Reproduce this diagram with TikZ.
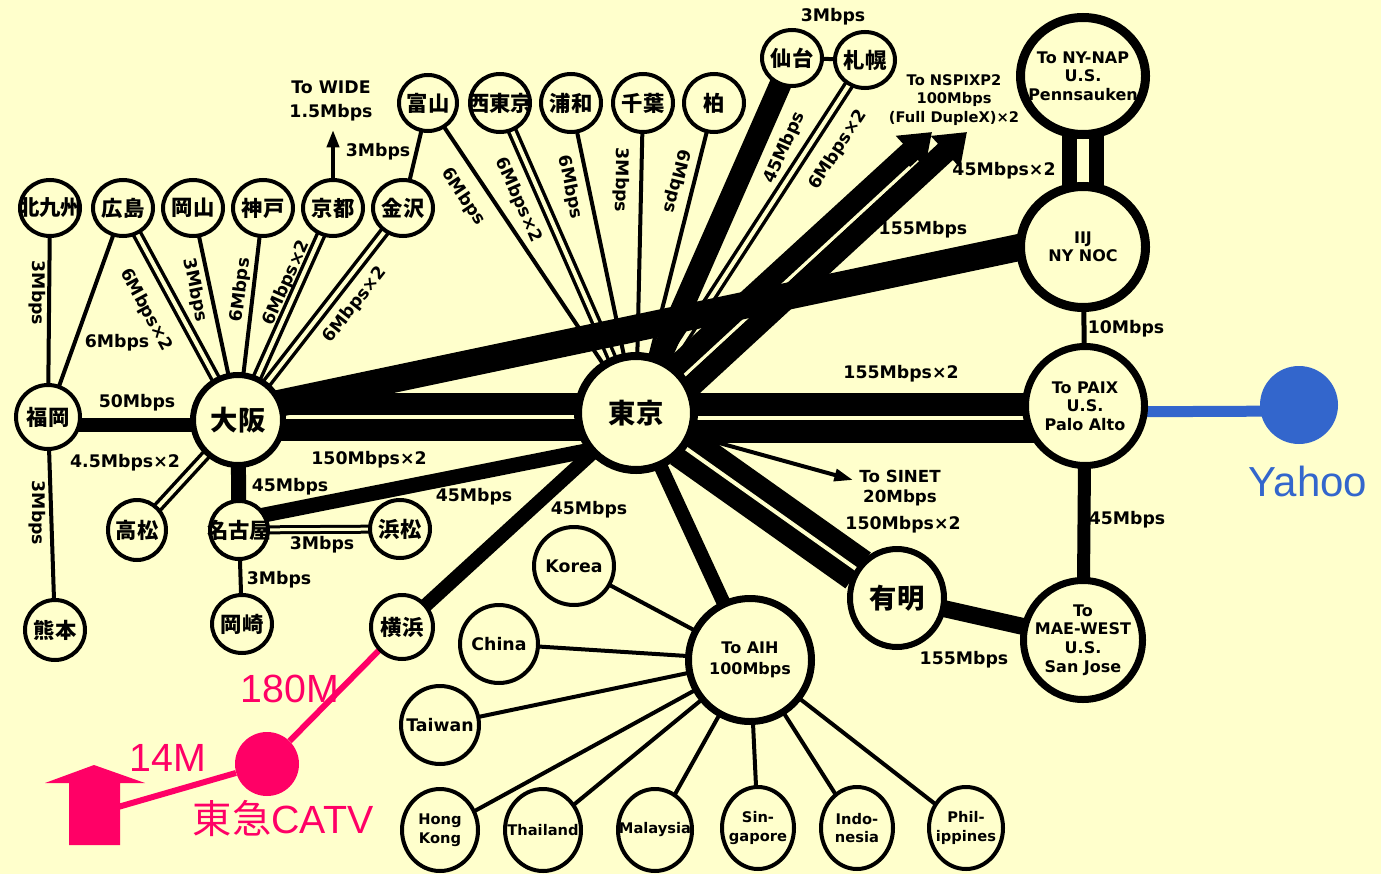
\documentclass[tikz,border=0pt]{standalone}
\usepackage{fontspec}
\setmainfont{DejaVu Sans}
\newfontfamily\cjk{Noto Sans CJK JP}
\newfontfamily\arialf{Liberation Sans}
\usetikzlibrary{shapes.geometric,arrows.meta}
\definecolor{bgc}{RGB}{255,255,204}
\definecolor{pinkc}{RGB}{255,0,102}
\definecolor{bluec}{RGB}{51,102,204}
\pgfdeclarelayer{bgl}
\pgfdeclarelayer{edges}
\pgfsetlayers{bgl,edges,main}
\tikzset{
  nd/.style n args={3}{ellipse, draw=black, fill=bgc, inner sep=0pt, outer sep=0pt, line width=#3*0.75pt, minimum width={(#1-#3)*0.75pt}, minimum height={(#2-#3)*0.75pt}},
  dotn/.style n args={3}{ellipse, fill=#3, draw=none, inner sep=0pt, minimum width={#1*0.75pt}, minimum height={#2*0.75pt}},
  jt/.style={font=\cjk\bfseries\fontsize{16}{17}\selectfont, inner sep=0pt},
  jtb/.style={font=\cjk\bfseries\fontsize{20.5}{22}\selectfont, inner sep=0pt},
  et/.style={font=\bfseries\fontsize{12}{13.9}\selectfont, align=center, inner sep=0pt},
  ea/.style={font=\bfseries\fontsize{12}{15.7}\selectfont, align=center, inner sep=0pt},
  ec/.style={font=\bfseries\fontsize{13}{14}\selectfont, inner sep=0pt},
  eb/.style={font=\bfseries\fontsize{11}{14.2}\selectfont, align=center, inner sep=0pt},
  lab/.style={font=\bfseries\fontsize{13}{14}\selectfont, inner sep=0pt},
  labw/.style={font=\bfseries\fontsize{13}{17.5}\selectfont, inner sep=0pt, align=center},
  labs/.style={font=\bfseries\fontsize{11}{13.9}\selectfont, inner sep=0pt, align=center},
  labt/.style={font=\bfseries\fontsize{12.5}{15}\selectfont, inner sep=0pt, align=center},
  ln/.style={line width=#1*0.75pt},
  dbl/.style 2 args={line width=#1*0.75pt, double=bgc, double distance=#2*0.75pt},
  pk/.style={font=\arialf\fontsize{29.5}{30}\selectfont, text=pinkc, inner sep=0pt},
}
\begin{document}
\begin{tikzpicture}[x=0.75pt,y=-0.75pt]
\useasboundingbox (0,0) rectangle (1381,874);
\begin{pgfonlayer}{bgl}
\fill[bgc] (0,0) rectangle (1381,874);
\end{pgfonlayer}
% ---------- nodes ----------
\node[nd={64}{60}{4}, label={[jt]center:北九州}] (hkk) at (50,208) {};
\node[nd={64}{60}{4}, label={[jt]center:広島}] (hir) at (123,208) {};
\node[nd={64}{60}{4}, label={[jt]center:岡山}] (oka) at (193,208) {};
\node[nd={64}{60}{4}, label={[jt]center:神戸}] (kob) at (263,208) {};
\node[nd={64}{60}{4}, label={[jt]center:京都}] (kyo) at (333,208) {};
\node[nd={64}{60}{4}, label={[jt]center:金沢}] (kan) at (403,208) {};
\node[nd={62}{60}{4}, label={[jt]center:富山}] (toy) at (428,103) {};
\node[nd={64}{62}{4}, label={[jt]center:西東京}] (nis) at (500,103) {};
\node[nd={64}{62}{4}, label={[jt]center:浦和}] (ura) at (571,103) {};
\node[nd={64}{62}{4}, label={[jt]center:千葉}] (chi) at (643,103) {};
\node[nd={64}{62}{4}, label={[jt]center:柏}] (kas) at (714,103) {};
\node[nd={64}{60}{4}, label={[jt]center:仙台}] (sen) at (792,58) {};
\node[nd={64}{60}{4}, label={[jt]center:札幌}] (sap) at (865,60) {};
\node[nd={68}{68}{4}, label={[jt]center:福岡}] (fuk) at (48,417) {};
\node[nd={96}{96}{6}, label={[jtb]center:大阪}] (osa) at (238,420) {};
\node[nd={62}{64}{4}, label={[jt]center:高松}] (tak) at (137,530) {};
\node[nd={62}{62}{4}, label={[jt]center:名古屋}] (nag) at (239,530) {};
\node[nd={64}{62}{4}, label={[jt]center:浜松}] (ham) at (400,529) {};
\node[nd={64}{62}{4}, label={[jt]center:岡崎}] (okz) at (242,624) {};
\node[nd={64}{64}{4}, label={[jt]center:熊本}] (kum) at (55,630) {};
\node[nd={66}{68}{4}, label={[jt]center:横浜}] (yok) at (402,627) {};
\node[nd={124}{122}{8}, label={[jtb]center:東京}] (tok) at (636,413) {};
\node[nd={84}{82}{4}, label={[ec]center:Korea}] (kor) at (574,566) {};
\node[nd={82}{82}{4}, label={[ec]center:China}] (chn) at (499,644) {};
\node[nd={82}{82}{4}, label={[ec]center:Taiwan}] (twn) at (440,725) {};
\node[nd={130}{130}{7}, label={[ea]center:To AIH\\100Mbps}] (aih) at (750,660) {};
\node[nd={80}{86}{4}, label={[eb]center:Hong\\Kong}] (hk) at (440,830) {};
\node[nd={80}{86}{4}, label={[eb]center:Thailand}] (tha) at (543,830) {};
\node[nd={78}{86}{4}, label={[eb]center:Malaysia}] (mal) at (655,830) {};
\node[nd={76}{86}{4}, label={[eb]center:Sin-\\gapore}] (sin) at (758,828) {};
\node[nd={76}{86}{4}, label={[eb]center:Indo-\\nesia}] (ind) at (857,828) {};
\node[nd={78}{86}{4}, label={[eb]center:Phil-\\ippines}] (phi) at (966,828) {};
\node[nd={100}{104}{6}, label={[jtb]center:有明}] (ari) at (897,598) {};
\node[nd={134}{126}{9}, label={[et]center:To NY-NAP\\U.S.\\Pennsauken}] (nyn) at (1083,76) {};
\node[nd={134}{130}{9}, label={[et]center:IIJ\\NY NOC}] (iij) at (1083,247) {};
\node[nd={126}{126}{7}, label={[et]center:To PAIX\\U.S.\\Palo Alto}] (pai) at (1085,406) {};
\node[nd={126}{126}{7}, label={[et]center:To\\MAE-WEST\\U.S.\\San Jose}] (mae) at (1083,640) {};
\node[dotn={78}{78}{bluec}] (yah) at (1299,405) {};
\node[dotn={64}{64}{pinkc}] (catv) at (267,764) {};
\coordinate (wide) at (333,130);
\coordinate (nsp1) at (932,132);
\coordinate (nsp2) at (967,132);
\coordinate (sinet) at (853,480);
\coordinate (arr) at (118,807);
% ---------- connectors ----------
\begin{pgfonlayer}{edges}
% thin singles
\draw[ln=4] (hkk) -- (fuk);
\draw[ln=4] (hir) -- (fuk);
\draw[ln=4] (fuk) -- (kum);
\draw[ln=4] (oka) -- (osa);
\draw[ln=4] (kob) -- (osa);
\draw[ln=4] (kan) -- (toy);
\draw[ln=4] (nag) -- (okz);
\draw[ln=4] (sen) -- (sap);
\draw[ln=4] (toy) -- (tok);
\draw[ln=4] (ura) -- (tok);
\draw[ln=4] (chi) -- (tok);
\draw[ln=4] (kas) -- (tok);
\draw[ln=4, -{Triangle[length=13pt,width=9pt]}] (kyo) -- (wide);
\foreach \c in {kor,chn,twn,hk,tha,mal,sin,ind,phi} \draw[ln=4] (aih) -- (\c);
% thin doubles
\draw[dbl={3.5}{4}] (hir) -- (osa);
\draw[dbl={3.5}{4}] (kyo) -- (osa);
\draw[dbl={3.5}{4}] (kan) -- (osa);
\draw[dbl={3.5}{4}] (tak) -- (osa);
\draw[dbl={3}{3}] (nag) -- (ham);
\draw[dbl={3.5}{4}] (nis) -- (tok);
\draw[dbl={3.5}{4}] (sap) -- (tok);
% heavy links
\draw[ln=14] ([shift={(0,8)}]fuk.center) -- ([shift={(0,5)}]osa.center);
\draw[ln=15] (osa) -- (nag);
\draw[ln=15] ([shift={(0,-10)}]nag.center) -- ([shift={(0,28)}]tok.center);
\draw[ln=14] (yok) -- (tok);
\draw[ln=14] (tok) -- (aih);
\draw[ln=22] (sen) -- (tok);
\draw[ln=4, -{Triangle[length=14pt,width=9pt]}] ([shift={(0,7)}]tok.center) -- (sinet);
\draw[ln=22, -{Triangle[length=22pt,width=31pt]}] ([shift={(-8.5,-2.2)}]tok.center) -- (nsp1);
\draw[ln=22, -{Triangle[length=22pt,width=31pt]}] ([shift={(8.5,16.2)}]tok.center) -- (nsp2);
\draw[bgc, ln=3] ([shift={(0,7)}]tok.center) -- ([shift={(274,-246)}]tok.center);
\draw[dbl={22}{4}] ([shift={(0,-3)}]osa.center) -- ([shift={(0,4)}]tok.center);
\draw[ln=27] ([shift={(0,-8)}]osa.center) -- ([shift={(0,-13)}]iij.center);
\draw[dbl={23}{4}] ([shift={(0,4.5)}]tok.center) -- ([shift={(0,11.5)}]pai.center);
\draw[dbl={20}{4}] (tok) -- (ari);
\draw[ln=17] (ari) -- (mae);
\draw[ln=13] (pai) -- (mae);
\draw[ln=5] (iij) -- (pai);
\draw[dbl={15}{12}] (nyn) -- (iij);
% coloured additions
\draw[bluec, ln=11] ([shift={(0,6)}]pai.center) -- ([shift={(0,6)}]yah.center);
\draw[pinkc, ln=6] (catv) -- (yok);
\draw[pinkc, ln=6] (catv) -- (arr);
\fill[pinkc] (69,845) -- (69,783) -- (45,783) -- (94,765) -- (145,783) -- (120,783) -- (120,845) -- cycle;
\end{pgfonlayer}
% ---------- link labels ----------
\node[lab, rotate=-90] (l1) at (37,293) {3Mbps};
\node[lab] (l2) at (117,343) {6Mbps};
\node[lab, rotate=-61.5] (l3) at (146,310) {6Mbps×2};
\node[lab, rotate=-78] (l4) at (195,290) {3Mbps};
\node[lab, rotate=83] (l5) at (241,290) {6Mbps};
\node[lab, rotate=66] (l6) at (287,283) {6Mbps×2};
\node[lab, rotate=52] (l7) at (355,305) {6Mbps×2};
\node[lab] (l8) at (378,152) {3Mbps};
\node[labw] (l9) at (331,101) {To WIDE\\1.5Mbps};
\node[lab, rotate=-56] (l10) at (463,197) {6Mbps};
\node[lab, rotate=-66] (l11) at (518,200) {6Mbps×2};
\node[lab, rotate=-78] (l12) at (570,187) {6Mbps};
\node[lab, rotate=-91] (l13) at (621,180) {3Mbps};
\node[lab, rotate=-104] (l14) at (676,181) {6Mbps};
\node[lab] (l15) at (833,17) {3Mbps};
\node[lab, rotate=66] (l16) at (785,148) {45Mbps};
\node[lab, rotate=57] (l17) at (838,150) {6Mbps×2};
\node[labs] (l18) at (954,100) {To NSPIXP2\\100Mbps\\(Full DupleX)×2};
\node[lab] (l19) at (1004,171) {45Mbps×2};
\node[lab] (l20) at (923,230) {155Mbps};
\node[lab] (l21) at (1126,329) {10Mbps};
\node[lab] (l22) at (137,403) {50Mbps};
\node[lab] (l23) at (125,463) {4.5Mbps×2};
\node[lab] (l24) at (369,460) {150Mbps×2};
\node[lab] (l25) at (290,487) {45Mbps};
\node[lab] (l26) at (474,497) {45Mbps};
\node[lab] (l27) at (589,510) {45Mbps};
\node[lab] (l28) at (322,545) {3Mbps};
\node[lab] (l29) at (279,580) {3Mbps};
\node[lab, rotate=-90] (l30) at (37,513) {3Mbps};
\node[lab] (l31) at (901,374) {155Mbps×2};
\node[labt] (l32) at (900,488) {To SINET\\20Mbps};
\node[lab] (l33) at (903,525) {150Mbps×2};
\node[lab] (l34) at (1127,520) {45Mbps};
\node[lab] (l35) at (964,660) {155Mbps};
% ---------- coloured texts ----------
\node[pk] (t180) at (290,689) {180M};
\node[pk] (t14) at (168,758) {14M};
\node[pk] (tcatv) at (283,818) {{\cjk 東急}CATV};
\node[font=\arialf\fontsize{31.5}{32}\selectfont, text=bluec, inner sep=0pt] (tyah) at (1308,481) {Yahoo};
\end{tikzpicture}
\end{document}
